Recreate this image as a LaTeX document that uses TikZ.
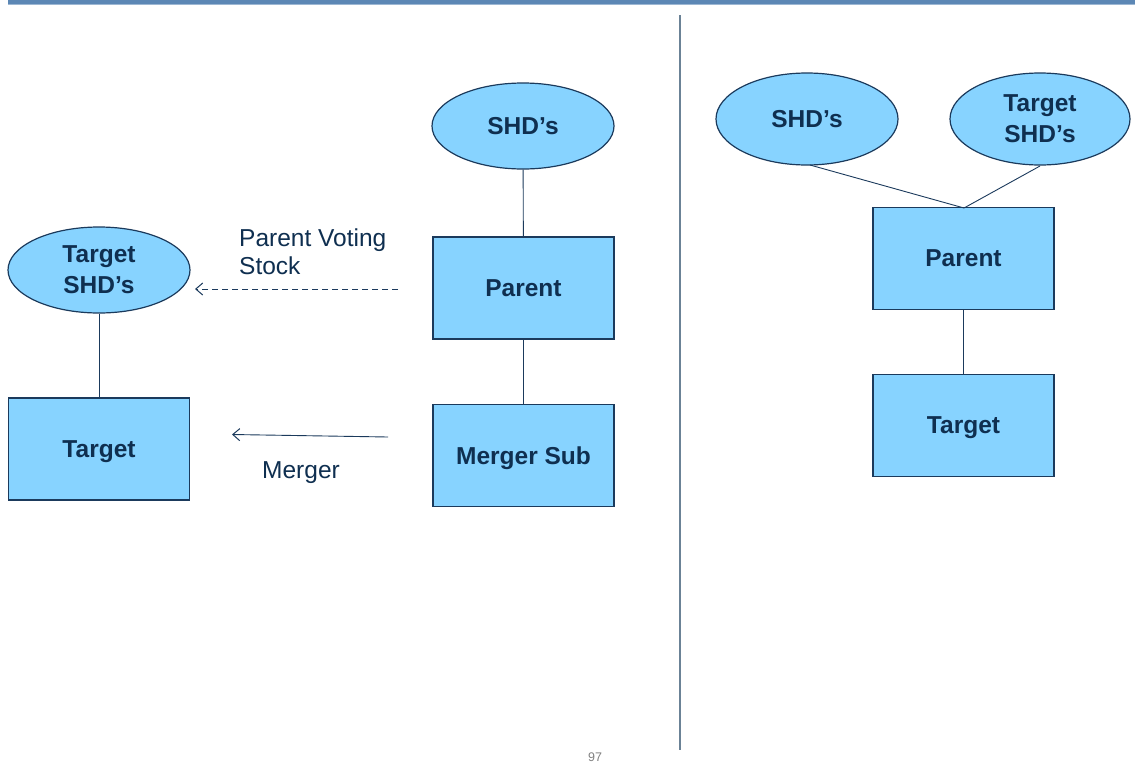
\documentclass[tikz,border=0pt]{standalone}
\usepackage{fontspec}
\setmainfont{Liberation Sans}
\usetikzlibrary{shapes.geometric,arrows.meta}
\definecolor{boxfill}{HTML}{87D3FF}
\definecolor{boxline}{HTML}{1B3A5C}
\definecolor{txt}{HTML}{0F2F50}
\definecolor{bar}{HTML}{5C87B5}
\definecolor{divider}{HTML}{6B8296}
\tikzset{
  x=1pt,y=-1pt,
  ent/.style={draw=boxline,fill=boxfill,line width=1.2pt,inner sep=0pt,
    text=txt,font=\fontsize{24.5}{31}\selectfont\bfseries,align=center},
  box/.style={ent,rectangle,minimum width=181pt,minimum height=102pt,text depth=0pt},
  oval/.style={ent,ellipse,minimum width=182pt,minimum height=86pt},
  conn/.style={draw=boxline,line width=0.9pt},
  lbl/.style={text=txt,font=\fontsize{24.5}{28}\selectfont,align=left,inner sep=0pt},
  arr/.style={conn,-{Straight Barb[length=7pt,width=12pt,line width=1pt]}}
}
\begin{document}
\begin{tikzpicture}
\useasboundingbox[fill=white] (0,0) rectangle (1135,763);
\fill[bar] (8,0) rectangle (1135,4);
\fill[bar!60] (8,4) rectangle (1135,5);
\draw[divider,line width=1.2pt] (680,15) -- (680,750);
\node[text=gray,font=\fontsize{12.5}{13}\selectfont,inner sep=0pt,anchor=base] (pg) at (595,761.5) {97};
% left
\node[oval] (shdL) at (523,126) {SHD’s};
\node[box] (parL) at (523.5,288) {Parent};
\node[box] (msub) at (523.5,455.5) {Merger Sub};
\node[oval] (tshdL) at (99,270) {Target\\SHD’s};
\node[box] (targL) at (99,449) {Target};
\draw[conn] (shdL) -- (parL);
\draw[conn] (parL) -- (msub);
\draw[conn] (tshdL) -- (targL);
\coordinate (dashS) at (398,289);
\coordinate (dashE) at (195,289);
\coordinate (solS) at (388,437);
\coordinate (solE) at (232,434.5);
\draw[arr,dash pattern=on 6pt off 4pt] (dashS) -- (dashE);
\draw[arr] (solS) -- (solE);
\node[lbl,anchor=north west] (pvs) at (239,229) {Parent Voting\\Stock};
\node[lbl,anchor=west] (mrg) at (262,473) {Merger};
% right
\node[oval,minimum height=92pt] (shdR) at (807,119) {SHD’s};
\node[oval,minimum height=92pt,minimum width=180pt] (tshdR) at (1040,119) {Target\\SHD’s};
\node[box] (parR) at (963.5,258.5) {Parent};
\node[box] (targR) at (963.5,425.5) {Target};
\coordinate (junc) at (964,208);
\draw[conn] (810,165) -- (junc) -- (1040,166);
\draw[conn] (parR) -- (targR);
\end{tikzpicture}
\end{document}
